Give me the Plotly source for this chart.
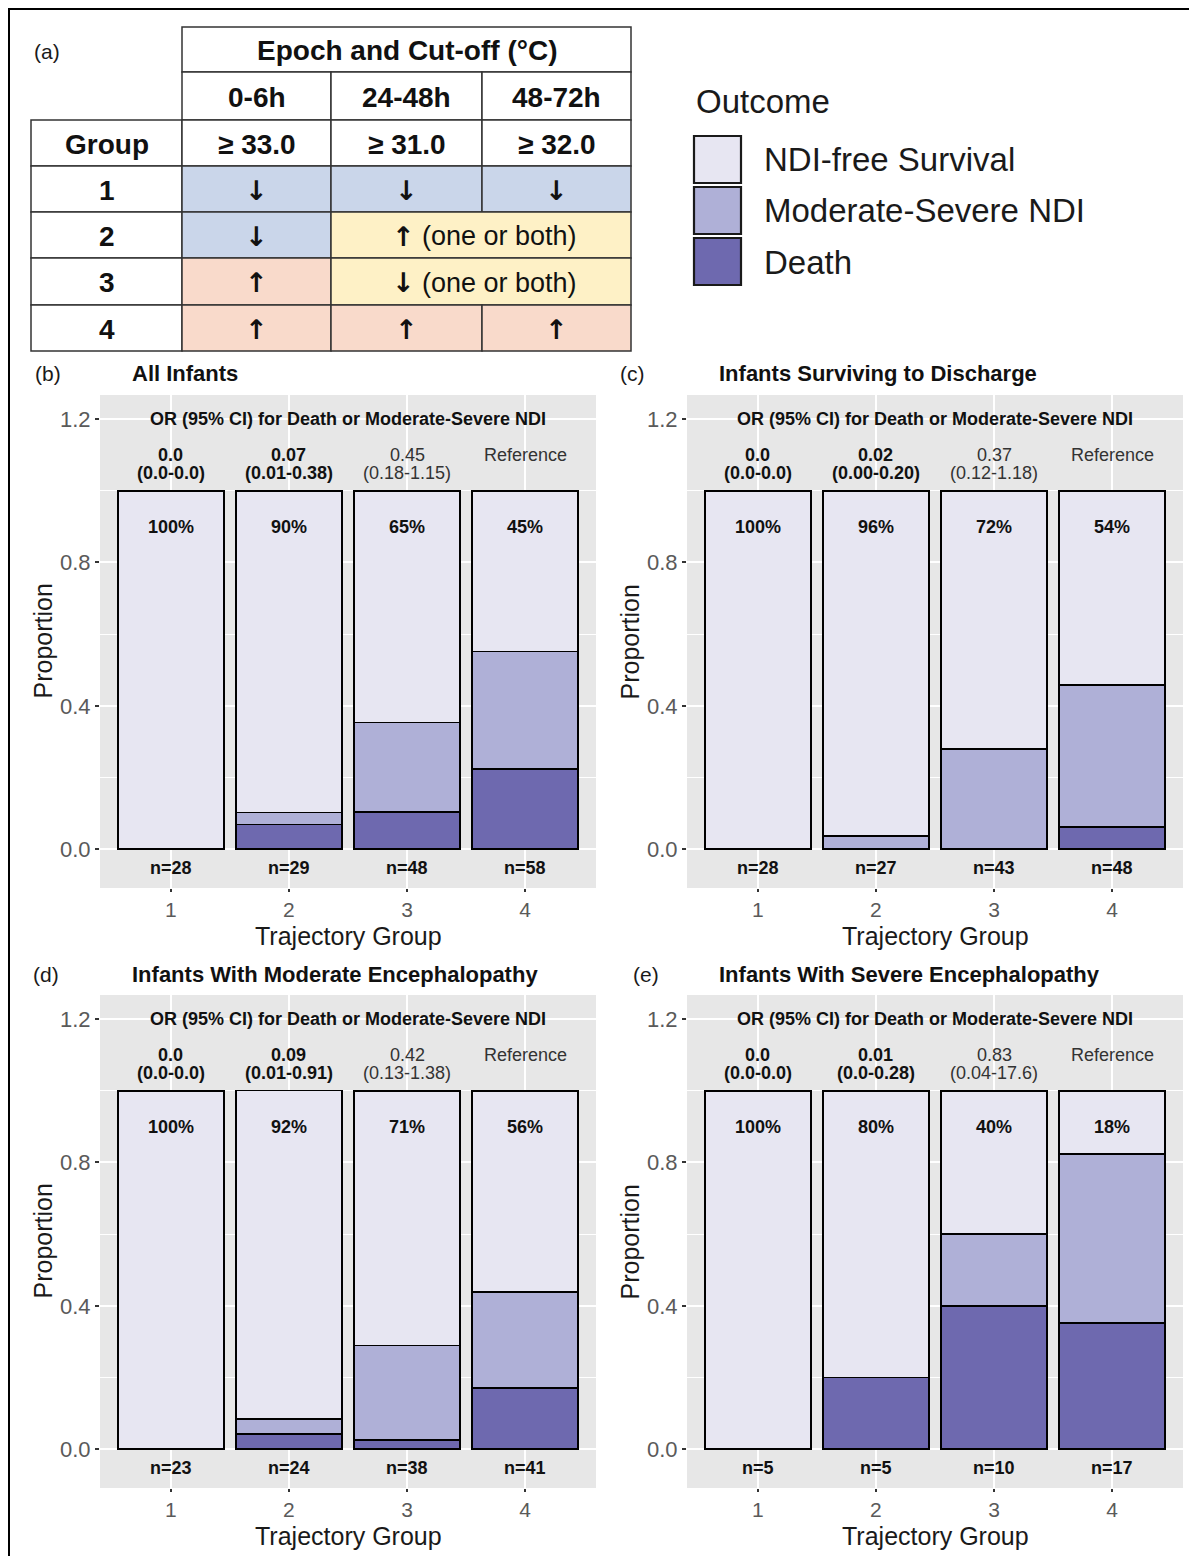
import plotly.graph_objects as go

PAGE_W, PAGE_H = 1197, 1564
OFF = 8  # default page margin of the html body
W, H = PAGE_W - 2 * OFF, PAGE_H - 2 * OFF
FONT = "Liberation Sans, Arial, sans-serif"
ARROW_FONT = "DejaVu Sans, sans-serif"

# ---------------- data ----------------
groups = [1, 2, 3, 4]
group_ticks = ["1", "2", "3", "4"]
y_ticks = [0.0, 0.4, 0.8, 1.2]
y_tick_text = ["0.0", "0.4", "0.8", "1.2"]
outcome_names = ["NDI-free Survival", "Moderate-Severe NDI", "Death"]
outcome_colors = ["#E7E6F2", "#AFB0D7", "#6E69AF"]

# (b) All Infants
b_death = [0.0, 0.069, 0.104, 0.224]
b_mod = [0.0, 0.034, 0.250, 0.328]
b_free = [1.0, 0.897, 0.646, 0.448]
b_pct = ["100%", "90%", "65%", "45%"]
b_n = ["n=28", "n=29", "n=48", "n=58"]
b_or = ["0.0", "0.07", "0.45", "Reference"]
b_ci = ["(0.0-0.0)", "(0.01-0.38)", "(0.18-1.15)", ""]
b_sig = [True, True, False, False]

# (c) Infants Surviving to Discharge
c_death = [0.0, 0.0, 0.0, 0.062]
c_mod = [0.0, 0.037, 0.279, 0.396]
c_free = [1.0, 0.963, 0.721, 0.542]
c_pct = ["100%", "96%", "72%", "54%"]
c_n = ["n=28", "n=27", "n=43", "n=48"]
c_or = ["0.0", "0.02", "0.37", "Reference"]
c_ci = ["(0.0-0.0)", "(0.00-0.20)", "(0.12-1.18)", ""]
c_sig = [True, True, False, False]

# (d) Infants With Moderate Encephalopathy
d_death = [0.0, 0.042, 0.026, 0.171]
d_mod = [0.0, 0.042, 0.263, 0.268]
d_free = [1.0, 0.917, 0.711, 0.561]
d_pct = ["100%", "92%", "71%", "56%"]
d_n = ["n=23", "n=24", "n=38", "n=41"]
d_or = ["0.0", "0.09", "0.42", "Reference"]
d_ci = ["(0.0-0.0)", "(0.01-0.91)", "(0.13-1.38)", ""]
d_sig = [True, True, False, False]

# (e) Infants With Severe Encephalopathy
e_death = [0.0, 0.2, 0.4, 0.353]
e_mod = [0.0, 0.0, 0.2, 0.471]
e_free = [1.0, 0.8, 0.4, 0.176]
e_pct = ["100%", "80%", "40%", "18%"]
e_n = ["n=5", "n=5", "n=10", "n=17"]
e_or = ["0.0", "0.01", "0.83", "Reference"]
e_ci = ["(0.0-0.0)", "(0.0-0.28)", "(0.04-17.6)", ""]
e_sig = [True, True, False, False]

panel_tags = ["(b)", "(c)", "(d)", "(e)"]
panel_titles = ["All Infants", "Infants Surviving to Discharge",
                "Infants With Moderate Encephalopathy", "Infants With Severe Encephalopathy"]
or_title = "OR (95% CI) for Death or Moderate-Severe NDI"
x_title = "Trajectory Group"
y_title = "Proportion"

# (a) table
table_header = "Epoch and Cut-off (°C)"
epochs = ["0-6h", "24-48h", "48-72h"]
cutoff_label = "Group"
cutoffs = ["≥ 33.0", "≥ 31.0", "≥ 32.0"]
table_groups = ["1", "2", "3", "4"]
# each row: list of (arrow, note, colour key, column span)
table_rows = [
    [("↓", "", "blue", 1), ("↓", "", "blue", 1), ("↓", "", "blue", 1)],
    [("↓", "", "blue", 1), ("↑", "(one or both)", "yellow", 2)],
    [("↑", "", "pink", 1), ("↓", "(one or both)", "yellow", 2)],
    [("↑", "", "pink", 1), ("↑", "", "pink", 1), ("↑", "", "pink", 1)],
]
cell_colors = {"blue": "#CAD6EA", "yellow": "#FEF1C6", "pink": "#F9DACB"}
legend_title = "Outcome"

panels = [
    dict(death=b_death, mod=b_mod, free=b_free, pct=b_pct, n=b_n, orv=b_or, ci=b_ci, sig=b_sig),
    dict(death=c_death, mod=c_mod, free=c_free, pct=c_pct, n=c_n, orv=c_or, ci=c_ci, sig=c_sig),
    dict(death=d_death, mod=d_mod, free=d_free, pct=d_pct, n=d_n, orv=d_or, ci=d_ci, sig=d_sig),
    dict(death=e_death, mod=e_mod, free=e_free, pct=e_pct, n=e_n, orv=e_or, ci=e_ci, sig=e_sig),
]


# ---------------- layout helpers (page pixels -> paper) ----------------
def px(x):
    return (x - OFF) / W


def py(y):
    return 1 - (y - OFF) / H


# panel boxes in page pixels: (left, right, top, bottom)
boxes = [(100, 596, 395, 888), (687, 1183, 395, 888),
         (100, 596, 995, 1488), (687, 1183, 995, 1488)]
YR = [-0.108, 1.267]

fig = go.Figure()
layout = dict(
    width=W, height=H, margin=dict(l=0, r=0, t=0, b=0),
    paper_bgcolor="white", plot_bgcolor="#E7E7E7",
    barmode="stack", showlegend=False,
    font=dict(family=FONT, color="black"),
)
annotations = []
shapes = []


def ptext(x, y, text, size, color="#1A1A1A", xanchor="center", family=FONT, angle=0):
    annotations.append(dict(x=px(x), y=py(y), xref="paper", yref="paper",
                            xanchor=xanchor, yanchor="middle", text=text, textangle=angle,
                            showarrow=False, font=dict(size=size, color=color, family=family)))


for i, (p, box) in enumerate(zip(panels, boxes)):
    k = "" if i == 0 else str(i + 1)
    xa, ya = "x" + k, "y" + k
    L, R, T, B = box
    layout["xaxis" + k] = dict(
        domain=[px(L), px(R)], range=[0.4, 4.6], anchor=ya,
        tickvals=groups, ticktext=group_ticks,
        showgrid=True, gridcolor="white", gridwidth=1.5, zeroline=False,
        ticks="outside", ticklen=3, tickwidth=1.5, tickcolor="#333333",
        tickfont=dict(size=21, color="#5A5A5A", family=FONT), fixedrange=True,
    )
    layout["yaxis" + k] = dict(
        domain=[py(B), py(T)], range=YR, anchor=xa,
        tickvals=y_ticks, ticktext=y_tick_text,
        showgrid=True, gridcolor="white", gridwidth=1.5, zeroline=False,
        minor=dict(tickvals=[0.2, 0.6, 1.0], showgrid=True, gridcolor="white", gridwidth=0.8, ticks=""),
        ticks="outside", ticklen=4, tickwidth=1.5, tickcolor="#333333",
        tickfont=dict(size=22, color="#5A5A5A", family=FONT), fixedrange=True,
    )
    for vals, name, col in [(p["death"], outcome_names[2], outcome_colors[2]),
                            (p["mod"], outcome_names[1], outcome_colors[1]),
                            (p["free"], outcome_names[0], outcome_colors[0])]:
        fig.add_trace(go.Bar(
            x=groups, y=vals, name=name, xaxis=xa, yaxis=ya, width=0.9,
            marker=dict(color=col, line=dict(color="black", width=1.6)),
            showlegend=False, hoverinfo="skip",
        ))
    # in-panel texts
    annotations.append(dict(x=2.5, y=1.2, xref=xa, yref=ya, text="<b>" + or_title + "</b>",
                            xanchor="center", yanchor="middle",
                            showarrow=False, font=dict(size=18, color="#111111")))
    for g, pct, n, o, ci, s in zip(groups, p["pct"], p["n"], p["orv"], p["ci"], p["sig"]):
        annotations.append(dict(x=g, y=0.9, xref=xa, yref=ya, text="<b>" + pct + "</b>",
                                xanchor="center", yanchor="middle",
                                showarrow=False, font=dict(size=18, color="#111111")))
        annotations.append(dict(x=g, y=-0.053, xref=xa, yref=ya, text="<b>" + n + "</b>",
                                xanchor="center", yanchor="middle",
                                showarrow=False, font=dict(size=18, color="#111111")))
        fmt = (lambda t: "<b>" + t + "</b>") if s else (lambda t: t)
        colr = "#111111" if s else "#333333"
        annotations.append(dict(x=g, y=1.099, xref=xa, yref=ya, text=fmt(o),
                                xanchor="center", yanchor="middle",
                                showarrow=False, font=dict(size=18, color=colr)))
        if ci:
            annotations.append(dict(x=g, y=1.049, xref=xa, yref=ya, text=fmt(ci),
                                    xanchor="center", yanchor="middle",
                                    showarrow=False, font=dict(size=18, color=colr)))
    # axis titles
    ptext((L + R) / 2, B + 48, x_title, 25)
    ptext(L - 58, (T + B) / 2, y_title, 25, angle=-90)
    # panel tags and titles
    tag_x = [48, 632, 46, 646][i]
    ptext(tag_x, T - 21, panel_tags[i], 21)
    ptext(L + 30, T - 21, "<b>" + panel_titles[i] + "</b>", 22, color="#111111", xanchor="left")

# ---------------- table (a) ----------------
col_x = [31, 182, 331, 482, 631]
row_y = [27, 72, 120, 166, 212, 258, 305, 351]
LINE = dict(color="#333333", width=1.5)


def cell(x0, x1, y0, y1, fill="white"):
    shapes.append(dict(type="rect", xref="paper", yref="paper",
                       x0=px(x0), x1=px(x1), y0=py(y1), y1=py(y0),
                       fillcolor=fill, line=LINE, layer="below"))


def ctext(x0, x1, y0, y1, text, size=28):
    ptext((x0 + x1) / 2, (y0 + y1) / 2 + 1, "<b>" + text + "</b>", size, color="#111111")


cell(col_x[1], col_x[4], row_y[0], row_y[1])
ctext(col_x[1], col_x[4], row_y[0], row_y[1], table_header)
for j, ep in enumerate(epochs):
    cell(col_x[j + 1], col_x[j + 2], row_y[1], row_y[2])
    ctext(col_x[j + 1], col_x[j + 2], row_y[1], row_y[2], ep)
cell(col_x[0], col_x[1], row_y[2], row_y[3])
ctext(col_x[0], col_x[1], row_y[2], row_y[3], cutoff_label)
for j, cu in enumerate(cutoffs):
    cell(col_x[j + 1], col_x[j + 2], row_y[2], row_y[3])
    ctext(col_x[j + 1], col_x[j + 2], row_y[2], row_y[3], cu)
for r, (gname, row) in enumerate(zip(table_groups, table_rows)):
    y0, y1 = row_y[r + 3], row_y[r + 4]
    ym = (y0 + y1) / 2 + 1
    cell(col_x[0], col_x[1], y0, y1)
    ctext(col_x[0], col_x[1], y0, y1, gname)
    c = 1
    for arrow, note, colkey, span in row:
        x0, x1 = col_x[c], col_x[c + span]
        cell(x0, x1, y0, y1, cell_colors[colkey])
        if note:
            ptext(x0 + 72, ym, "<b>" + arrow + "</b>", 27, color="#111111", family=ARROW_FONT)
            ptext(x0 + 89, ym, note, 27, color="#111111", xanchor="left")
        else:
            ptext((x0 + x1) / 2, ym, "<b>" + arrow + "</b>", 27, color="#111111", family=ARROW_FONT)
        c += span

ptext(47, 51, "(a)", 21)

# ---------------- legend ----------------
ptext(694, 101, legend_title, 33, xanchor="left")
key_tops = [136, 187, 238]
for top, name, col in zip(key_tops, outcome_names, outcome_colors):
    shapes.append(dict(type="rect", xref="paper", yref="paper",
                       x0=px(694), x1=px(741), y0=py(top + 47), y1=py(top),
                       fillcolor=col, line=dict(color="#1A1A1A", width=2.2)))
    ptext(762, top + 24, name, 33, xanchor="left")

# outer frame (left and top edges)
shapes.append(dict(type="line", xref="paper", yref="paper", x0=px(9), x1=px(9), y0=0, y1=1,
                   line=dict(color="black", width=2)))
shapes.append(dict(type="line", xref="paper", yref="paper", x0=px(9), x1=1, y0=py(9), y1=py(9),
                   line=dict(color="black", width=2)))

layout["annotations"] = annotations
layout["shapes"] = shapes
fig.update_layout(**layout)
fig.write_html("out.html")
